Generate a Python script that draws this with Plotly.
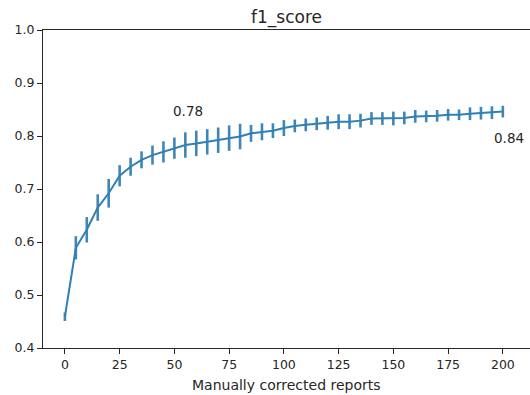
import plotly.graph_objects as go

reports = list(range(0, 205, 5))
f1_mean = [0.459, 0.589, 0.623, 0.665, 0.692, 0.725, 0.742, 0.755, 0.764, 0.770,
           0.777, 0.783, 0.786, 0.789, 0.792, 0.796, 0.799, 0.805, 0.808, 0.810,
           0.815, 0.819, 0.821, 0.823, 0.825, 0.827, 0.827, 0.829, 0.833, 0.833,
           0.833, 0.834, 0.837, 0.837, 0.838, 0.840, 0.840, 0.842, 0.843, 0.844,
           0.846]
f1_err = [0.008, 0.022, 0.024, 0.025, 0.027, 0.020, 0.017, 0.016, 0.018, 0.020,
          0.020, 0.024, 0.024, 0.024, 0.024, 0.024, 0.024, 0.016, 0.016, 0.014,
          0.015, 0.012, 0.012, 0.012, 0.013, 0.014, 0.014, 0.013, 0.012, 0.012,
          0.013, 0.012, 0.012, 0.011, 0.011, 0.011, 0.010, 0.012, 0.012, 0.012,
          0.011]
x_ticks = [0, 25, 50, 75, 100, 125, 150, 175, 200]
y_ticks = [0.4, 0.5, 0.6, 0.7, 0.8, 0.9, 1.0]
title_text = "f1_score"
x_label = "Manually corrected reports"
labels = [(48.5, 0.847, "0.78"), (195, 0.796, "0.84")]

FONT = "DejaVu Sans"
fig = go.Figure()
fig.add_trace(go.Scatter(
    x=reports, y=f1_mean, mode="lines",
    line=dict(color="#3080b7", width=2),
    error_y=dict(type="data", array=f1_err, visible=True,
                 color="#3f86b6", thickness=2.6, width=0),
    showlegend=False,
))

for xv, yv, t in labels:
    fig.add_annotation(x=xv, y=yv, text=t, showarrow=False, xanchor="left",
                       yanchor="middle", font=dict(family=FONT, size=13.5, color="#262626"))

fig.add_annotation(x=0.5, y=-0.116, xref="paper", yref="paper", text=x_label,
                   showarrow=False, xanchor="center", yanchor="middle",
                   font=dict(family=FONT, size=14, color="#262626"))

axis_common = dict(showgrid=False, zeroline=False, showline=True, linecolor="#262626",
                   linewidth=1, ticks="outside", ticklen=5, tickcolor="#262626",
                   automargin=False,
                   tickfont=dict(family=FONT, size=12.5, color="#262626"))

fig.update_layout(
    width=530, height=395,
    margin=dict(l=43, r=0, t=30, b=47, autoexpand=False),
    paper_bgcolor="white", plot_bgcolor="white",
    title=dict(text=title_text, x=0.5, xref="paper", xanchor="center",
               y=1 - 17 / 395, yref="container", yanchor="middle",
               font=dict(family=FONT, size=17, color="#262626")),
    xaxis=dict(range=[-10, 212.4], tickvals=x_ticks, mirror=True, **axis_common),
    yaxis=dict(range=[0.4, 1.0], tickvals=y_ticks, tickformat=".1f", **axis_common),
)

fig.write_html("out.html", config={"displayModeBar": False},
               post_script="document.body.style.margin='0';document.body.style.overflow='hidden';")
